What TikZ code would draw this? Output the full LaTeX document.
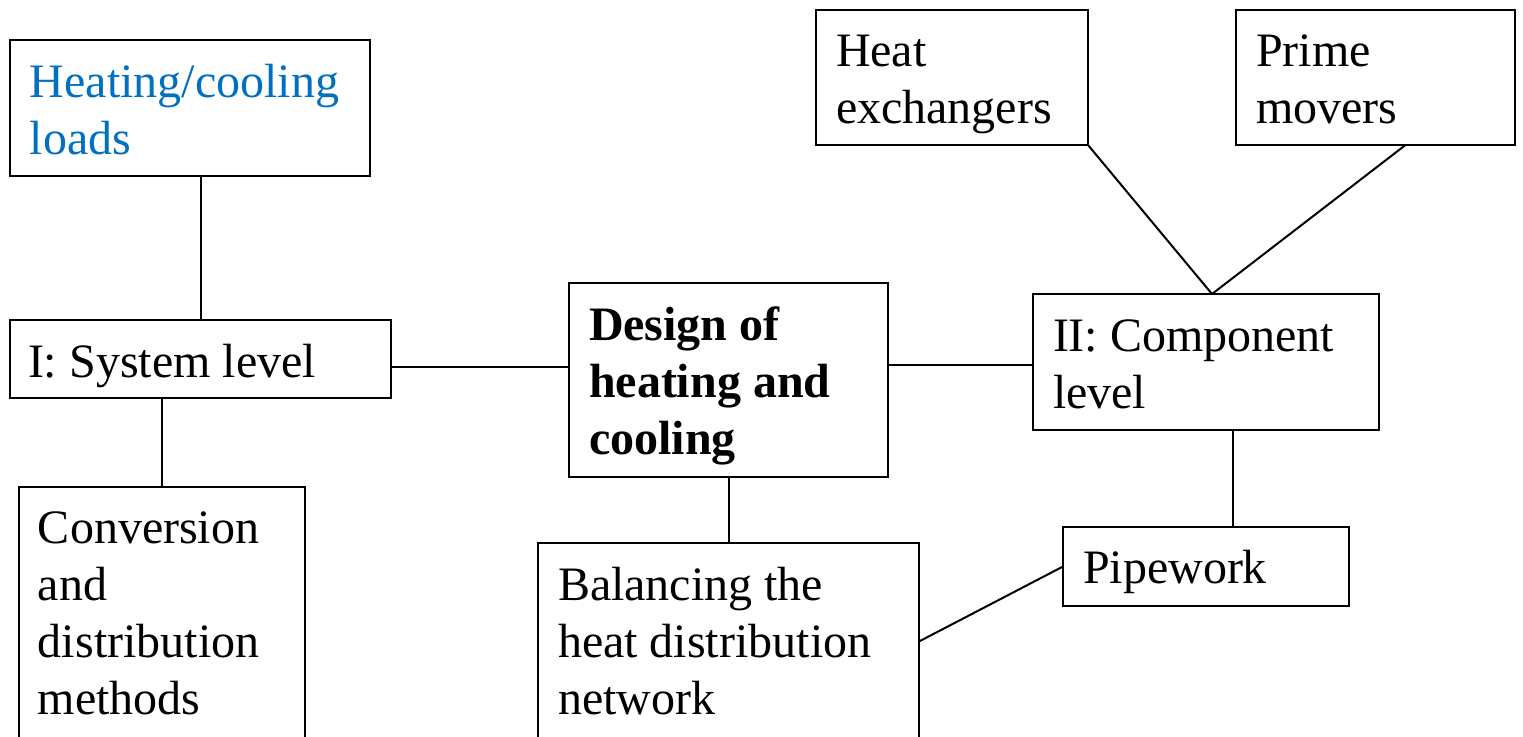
\documentclass[tikz,border=0pt]{standalone}
\usepackage{fontspec}
\setmainfont{Liberation Serif}
\usetikzlibrary{calc}
\definecolor{loadblue}{HTML}{0070C0}
% stacked lines whose reference point is the first baseline
\newcommand{\linesof}[1]{\vtop{\baselineskip=28.5pt\halign{##\hfil\cr#1\crcr}}}
\begin{document}
\begin{tikzpicture}[x=0.5pt,y=-0.5pt,
  box/.style={draw=black,line width=1.1pt,rectangle,anchor=north west,inner sep=0pt,outer sep=0pt,fill=white},
  txt/.style={anchor=base west,inner sep=0pt,outer sep=0pt,font=\fontsize{24pt}{28.5pt}\selectfont},
  link/.style={draw=black,line width=1pt}]
\useasboundingbox[fill=white] (0,0) rectangle (1523,736);

% boxes
\node[box,minimum width=180pt,minimum height=68pt] (loads) at (10,40) {};
\node[box,minimum width=190.5pt,minimum height=39pt] (sys) at (10,320) {};
\node[box,minimum width=143pt,minimum height=126.5pt] (conv) at (19,487) {};
\node[box,minimum width=159.5pt,minimum height=97pt] (design) at (569,283) {};
\node[box,minimum width=190.5pt,minimum height=98.5pt] (bal) at (538,543) {};
\node[box,minimum width=136pt,minimum height=67.5pt] (hx) at (816,10) {};
\node[box,minimum width=139.5pt,minimum height=67.5pt] (pm) at (1236,10) {};
\node[box,minimum width=173pt,minimum height=68pt] (comp) at (1033,294) {};
\node[box,minimum width=143pt,minimum height=39.5pt] (pipe) at (1063,527) {};

% labels
\node[txt,text=loadblue] (tloads) at (30,97) {\linesof{Heating/cooling\cr loads}};
\node[txt] (tsys) at (28,377) {I: System level};
\node[txt] (tconv) at (38,543) {\linesof{Conversion\cr and\cr distribution\cr methods}};
\node[txt,font=\fontsize{24pt}{28.5pt}\selectfont\bfseries] (tdesign) at (589,340) {\linesof{Design of\cr heating and\cr cooling}};
\node[txt] (tbal) at (558,600) {\linesof{Balancing the\cr heat distribution\cr network}};
\node[txt] (thx) at (836,66) {\linesof{Heat\cr exchangers}};
\node[txt] (tpm) at (1256,66) {\linesof{Prime\cr movers}};
\node[txt] (tcomp) at (1053,351) {\linesof{II: Component\cr level}};
\node[txt] (tpipe) at (1083,583) {Pipework};

% connectors
\draw[link] (sys.north) -- (sys.north |- loads.south);
\draw[link] (conv.north) -- (conv.north |- sys.south);
\draw[link] ($(sys.east)+(0,8)$) coordinate (sysout) -- (sysout -| design.west);
\draw[link] ($(comp.west)+(0,3)$) coordinate (compin) -- (compin -| design.east);
\draw[link] (design.south) -- (design.south |- bal.north);
\draw[link] (hx.south east) -- ($(comp.north)+(6,0)$);
\draw[link] ($(pm.south)+(30,0)$) -- ($(comp.north)+(6,0)$);
\draw[link] ($(comp.south)+(27,0)$) coordinate (compdown) -- (compdown |- pipe.north);
\draw[link] (bal.east) -- (pipe.west);
\end{tikzpicture}
\end{document}
